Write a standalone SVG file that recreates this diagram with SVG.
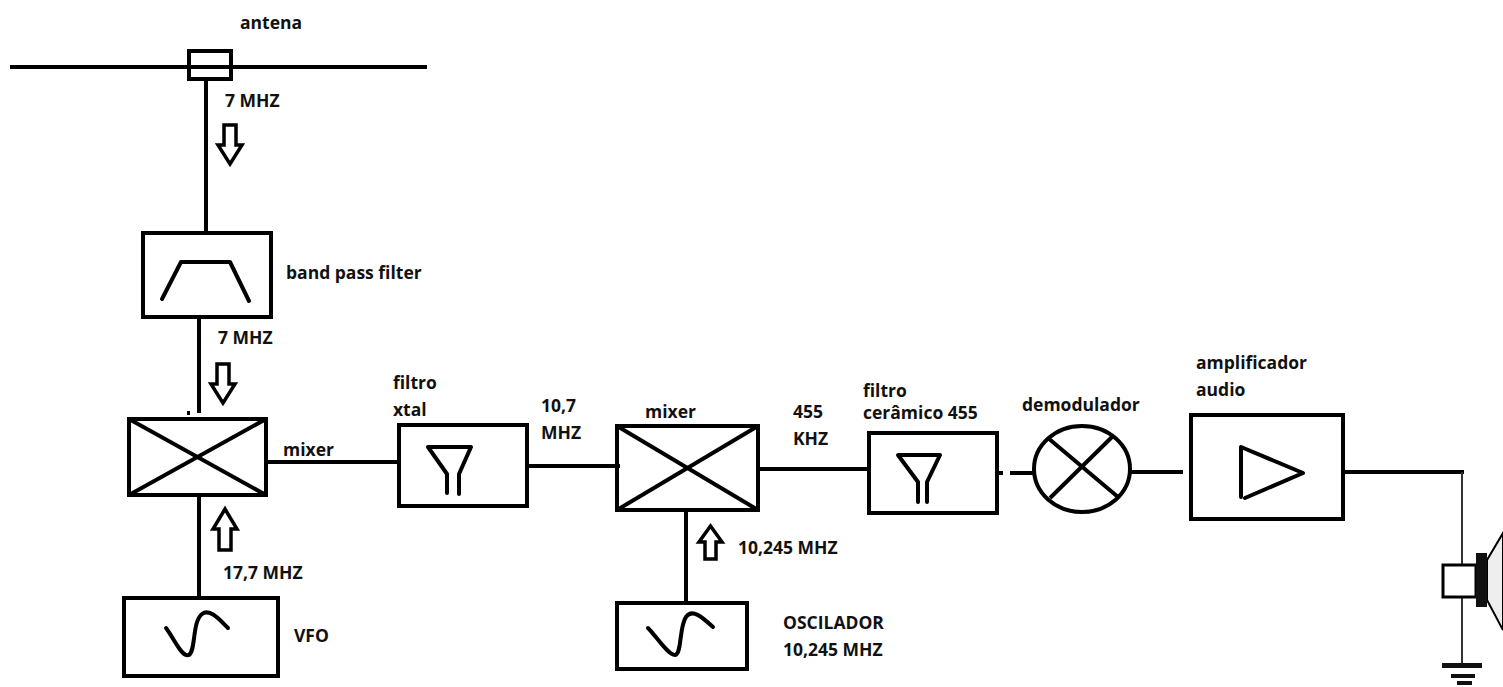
<svg xmlns="http://www.w3.org/2000/svg" width="1503" height="687" viewBox="0 0 1503 687">
<style>
.b{fill:none;stroke:#000;stroke-width:4}
.s{fill:none;stroke:#000;stroke-width:4;stroke-linecap:round;stroke-linejoin:round}
.w{fill:none;stroke:#000;stroke-width:4}
.t{font-family:"Open Sans","Liberation Sans",Arial,sans-serif;font-weight:bold;font-size:17.5px;fill:#111}
.ar{fill:#fff;stroke:#000;stroke-width:3.5;stroke-linejoin:miter}
</style>
<rect width="1503" height="687" fill="#fff"/>
<g id="connectors">
<line class="w" x1="10" y1="67" x2="427" y2="67"/>
<line class="w" x1="206" y1="80" x2="206" y2="234"/>
<line class="w" x1="199" y1="317" x2="199" y2="413"/>
<line class="w" x1="266" y1="462" x2="400" y2="462"/>
<line class="w" x1="199" y1="496" x2="199" y2="597"/>
<line class="w" x1="527" y1="466" x2="620" y2="466"/>
<line class="w" x1="686" y1="510" x2="686" y2="603"/>
<line class="w" x1="758" y1="469" x2="868" y2="469"/>
<line class="w" x1="997" y1="473" x2="1003" y2="473"/>
<line class="w" x1="1010" y1="473" x2="1033" y2="473"/>
<line class="w" x1="1130" y1="472" x2="1183" y2="472"/>
<line class="w" x1="1343" y1="472" x2="1464" y2="472"/>
<line stroke="#333" stroke-width="2" x1="1462" y1="472" x2="1462" y2="665"/>
<line class="w" x1="187" y1="413" x2="190" y2="413" stroke-width="2"/>
<path class="ar" d="M224,125 H236 V145 H242 L230,164 L218,145 H224 Z"/>
<path class="ar" d="M217,364 H229 V384 H235 L223,403 L211,384 H217 Z"/>
<path class="ar" d="M219,550 H231 V529 H237 L225,509 L213,529 H219 Z"/>
<path class="ar" d="M705,559 H716 V542 H722 L710.5,526 L699,542 H705 Z"/>
</g>
<g id="antenna">
<rect class="b" x="189" y="51" width="42" height="28" fill="#fff"/>
<line class="w" x1="189" y1="67" x2="194" y2="67"/>
<line class="w" x1="226" y1="67" x2="231" y2="67"/>
<text class="t" x="240" y="29">antena</text>
<text class="t" x="225" y="107">7 MHZ</text>
</g>
<g id="bandpass">
<rect class="b" x="143" y="233" width="128" height="84"/>
<polyline class="s" points="162,299 181,262 230,262 249,301"/>
<text class="t" x="286" y="279">band pass filter</text>
<text class="t" x="218" y="344">7 MHZ</text>
</g>
<g id="mixer1">
<rect class="b" x="129" y="419" width="137" height="76"/>
<line class="w" x1="129" y1="419" x2="266" y2="495"/>
<line class="w" x1="266" y1="419" x2="129" y2="495"/>
<text class="t" x="283" y="456">mixer</text>
<text class="t" x="223" y="579">17,7 MHZ</text>
</g>
<g id="vfo">
<rect class="b" x="124" y="598" width="154" height="78"/>
<path class="s" d="M166,628 C175,640 182,658 189,655 C196,650 192,622 202,614 C210,608 220,620 228,628"/>
<text class="t" x="294" y="642">VFO</text>
</g>
<g id="xtal">
<rect class="b" x="399" y="425" width="128" height="81"/>
<polyline class="s" points="447,493 447,474 428,447 471,447 459,474 459,494"/>
<text class="t" x="393" y="389">filtro</text>
<text class="t" x="393" y="416">xtal</text>
<text class="t" x="541" y="412">10,7</text>
<text class="t" x="541" y="439">MHZ</text>
</g>
<g id="mixer2">
<rect class="b" x="617" y="426" width="141" height="84"/>
<line class="w" x1="617" y1="426" x2="758" y2="510"/>
<line class="w" x1="758" y1="426" x2="617" y2="510"/>
<text class="t" x="645" y="418">mixer</text>
<text class="t" x="793" y="418">455</text>
<text class="t" x="793" y="445">KHZ</text>
<text class="t" x="738" y="554">10,245 MHZ</text>
</g>
<g id="oscilador">
<rect class="b" x="617" y="603" width="130" height="66"/>
<path class="s" d="M648,628 C656,636 668,655 675,655 C682,654 679,627 686,617 C692,608 702,617 713,627"/>
<text class="t" x="783" y="629">OSCILADOR</text>
<text class="t" x="783" y="656">10,245 MHZ</text>
</g>
<g id="ceramico">
<rect class="b" x="869" y="433" width="128" height="80"/>
<polyline class="s" points="918,502 918,482 898,455 940,455 927,482 927,502"/>
<text class="t" x="863" y="397">filtro</text>
<text class="t" x="863" y="419">cerâmico 455</text>
</g>
<g id="demodulador">
<ellipse class="b" cx="1082" cy="469" rx="48" ry="43"/>
<line class="w" x1="1048" y1="438" x2="1118" y2="497"/>
<line class="w" x1="1112" y1="437" x2="1050" y2="498"/>
<text class="t" x="1022" y="411">demodulador</text>
</g>
<g id="amplificador">
<rect class="b" x="1191" y="415" width="152" height="104"/>
<polyline class="s" points="1245,498 1303,473 1241,447 1241,497"/>
<text class="t" x="1196" y="369">amplificador</text>
<text class="t" x="1196" y="396">audio</text>
</g>
<g id="speaker">
<path d="M1487,560 L1503,533 L1503,630 L1487,600 Z" fill="#eee" stroke="#000" stroke-width="2"/>
<rect x="1443" y="565" width="33" height="32" fill="#fff" stroke="#000" stroke-width="3"/>
<rect x="1476" y="553" width="11" height="54" fill="#111"/>
<rect x="1442" y="663" width="40" height="5" fill="#111"/>
<rect x="1451" y="674" width="24" height="4" fill="#111"/>
<rect x="1457" y="681" width="15" height="4" fill="#111"/>
</g>
</svg>
